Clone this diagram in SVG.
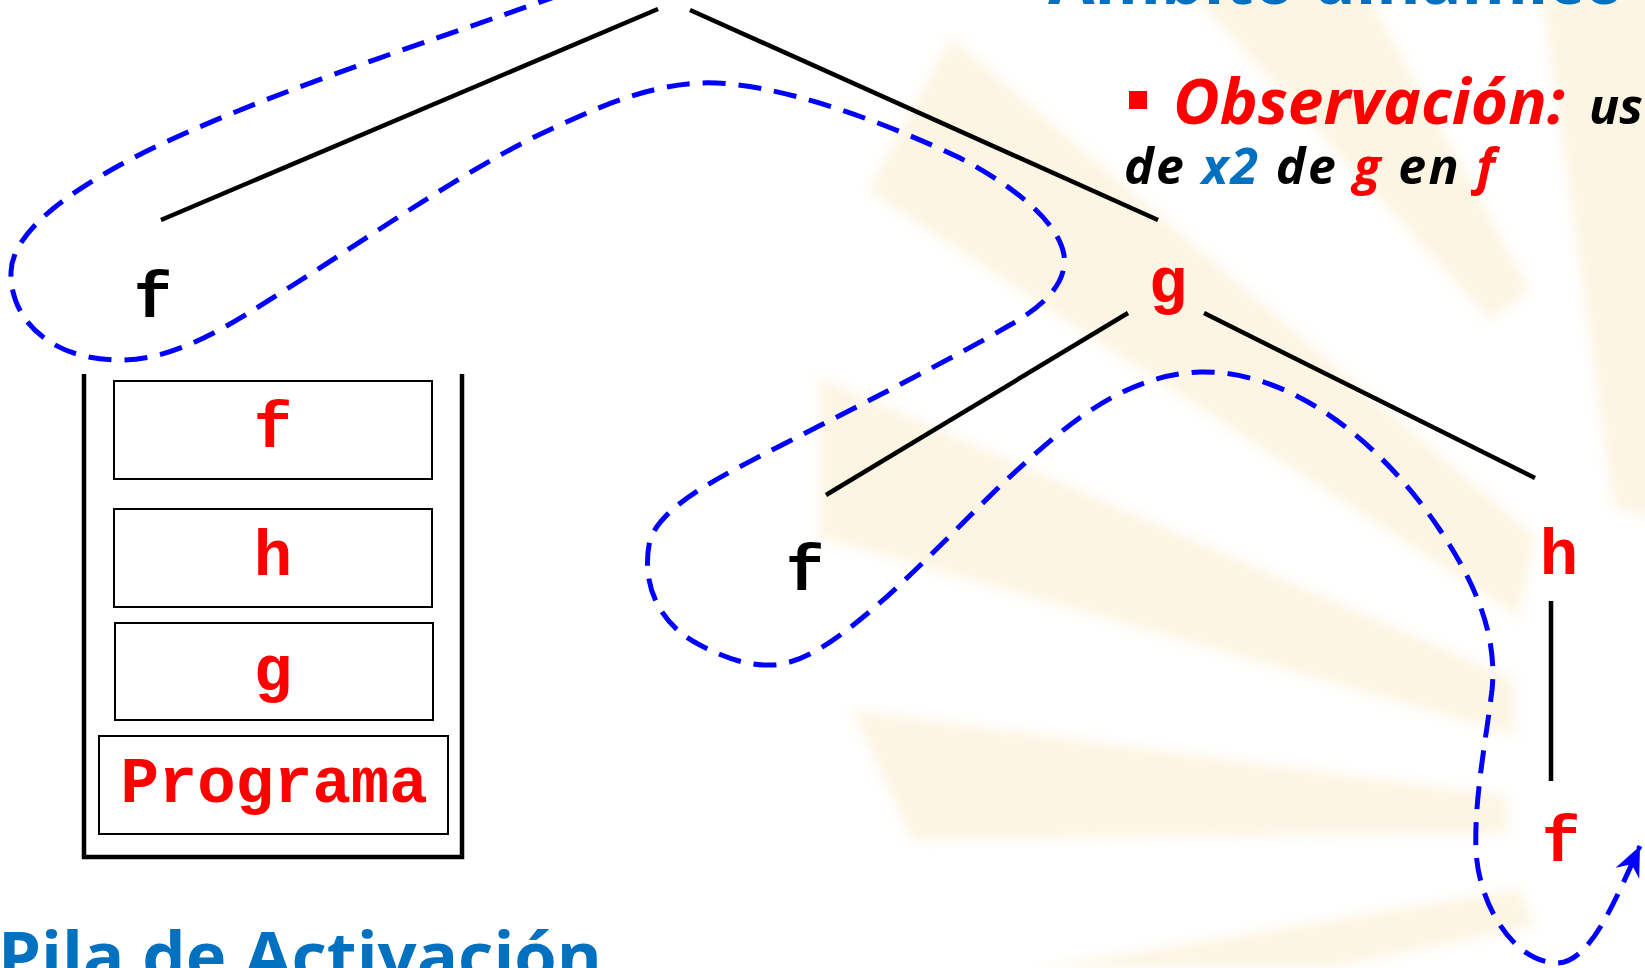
<svg xmlns="http://www.w3.org/2000/svg" width="1645" height="968" viewBox="0 0 1645 968">
<style>
.bg{fill:#fbe8c4;opacity:0.45}
.edge{stroke:#000;stroke-width:4.5;fill:none}
.trace{stroke:#0000ff;stroke-width:5;fill:none;stroke-dasharray:23 13}
.mono{font-family:"Liberation Mono","Courier New",monospace;font-weight:bold;font-size:64px;text-anchor:middle}
.red{fill:#ff0000}
.blk{fill:#000}
.frame{fill:#fff;stroke:#000;stroke-width:2}
.wall{stroke:#000;stroke-width:4.5;fill:none}
.sans{font-family:"Open Sans","DejaVu Sans",sans-serif;font-weight:bold}
.it{font-style:italic}
</style>
<defs>
<filter id="soft" x="-10%" y="-10%" width="120%" height="120%"><feGaussianBlur stdDeviation="6"/></filter>
<marker id="arr" viewBox="-32 -16 34 32" refX="0" refY="0" markerWidth="34" markerHeight="32" markerUnits="userSpaceOnUse" orient="auto">
<path d="M0,0 L-30,-13 L-20,0 L-30,13 Z" fill="#0000ff"/>
</marker>
</defs>
<rect width="1645" height="968" fill="#fff"/>
<g id="background" filter="url(#soft)">
<polygon class="bg" points="951,37 1536,537 1519,617 868,191"/>
<polygon class="bg" points="819,377 1514,679 1514,735 819,537"/>
<polygon class="bg" points="852,710 1508,796 1508,833 912,840"/>
<polygon class="bg" points="1040,968 1519,889 1536,926 1330,968"/>
<polygon class="bg" points="1188,-10 1365,-10 1530,290 1490,320"/>
<polygon class="bg" points="1541,-10 1655,-10 1655,520 1613,506"/>
</g>
<g id="title">
<text class="sans" x="1048" y="4" font-size="70" fill="#0070c0" textLength="577" lengthAdjust="spacingAndGlyphs">Ámbito dinámico</text>
</g>
<g id="observacion">
<rect x="1129" y="91" width="18" height="18" fill="#ff0000"/>
<text class="sans it" x="1173" y="124" font-size="63" fill="#ff0000" textLength="392" lengthAdjust="spacingAndGlyphs">Observación:</text>
<text class="sans it" x="1589" y="124" font-size="50" fill="#000">us</text>
<text class="sans it" x="1124" y="184" font-size="50" fill="#000" textLength="371" lengthAdjust="spacing">de <tspan fill="#0070c0">x2</tspan> de <tspan fill="#ff0000">g</tspan> en <tspan fill="#ff0000">f</tspan></text>
</g>
<g id="connectors">
<line class="edge" x1="658" y1="9" x2="161" y2="220"/>
<line class="edge" x1="690" y1="10" x2="1158" y2="220"/>
<line class="edge" x1="1128" y1="313" x2="826" y2="495"/>
<line class="edge" x1="1204" y1="313" x2="1535" y2="478"/>
<line class="edge" x1="1551" y1="601" x2="1551" y2="781"/>
<path class="trace" marker-end="url(#arr)" d="M 560,-5 C 420,45 230,105 120,165 C 60,198 12,235 11,272 C 10,320 50,358 115,360 C 175,362 230,325 290,287 C 380,230 480,160 560,125 C 610,102 650,86 700,83 C 770,80 880,120 960,158 C 1010,184 1058,220 1064,255 C 1068,285 1040,308 1010,325 C 950,360 860,405 772,450 C 720,477 662,505 650,540 C 640,585 660,625 700,645 C 725,658 748,666 772,665 C 800,664 830,645 868,613 C 910,578 960,525 1000,486 C 1060,430 1120,375 1200,372 C 1290,370 1380,440 1440,530 C 1480,590 1497,640 1492,690 C 1486,740 1474,800 1476,850 C 1478,900 1510,960 1555,963 C 1590,965 1615,900 1640,846"/>
</g>
<g id="node-f1"><text class="mono blk" x="153" y="317">f</text></g>
<g id="node-g"><text class="mono red" x="1168" y="302">g</text></g>
<g id="node-f2"><text class="mono blk" x="805" y="590">f</text></g>
<g id="node-h"><text class="mono red" x="1559" y="574">h</text></g>
<g id="node-f3"><text class="mono red" x="1561" y="861">f</text></g>
<g id="stack">
<path class="wall" d="M 84,374 L 84,857 L 462,857 L 462,374"/>
<g id="stack-f"><rect class="frame" x="114" y="381" width="318" height="98"/><text class="mono red" x="273" y="447">f</text></g>
<g id="stack-h"><rect class="frame" x="114" y="509" width="318" height="98"/><text class="mono red" x="273" y="575">h</text></g>
<g id="stack-g"><rect class="frame" x="115" y="623" width="318" height="97"/><text class="mono red" x="273" y="690">g</text></g>
<g id="stack-programa"><rect class="frame" x="99" y="736" width="349" height="98"/><text class="mono red" x="274" y="802">Programa</text></g>
</g>
<g id="caption">
<text class="sans" x="-2" y="980" font-size="66" fill="#0070c0" textLength="604" lengthAdjust="spacingAndGlyphs">Pila de Activación</text>
</g>
</svg>
